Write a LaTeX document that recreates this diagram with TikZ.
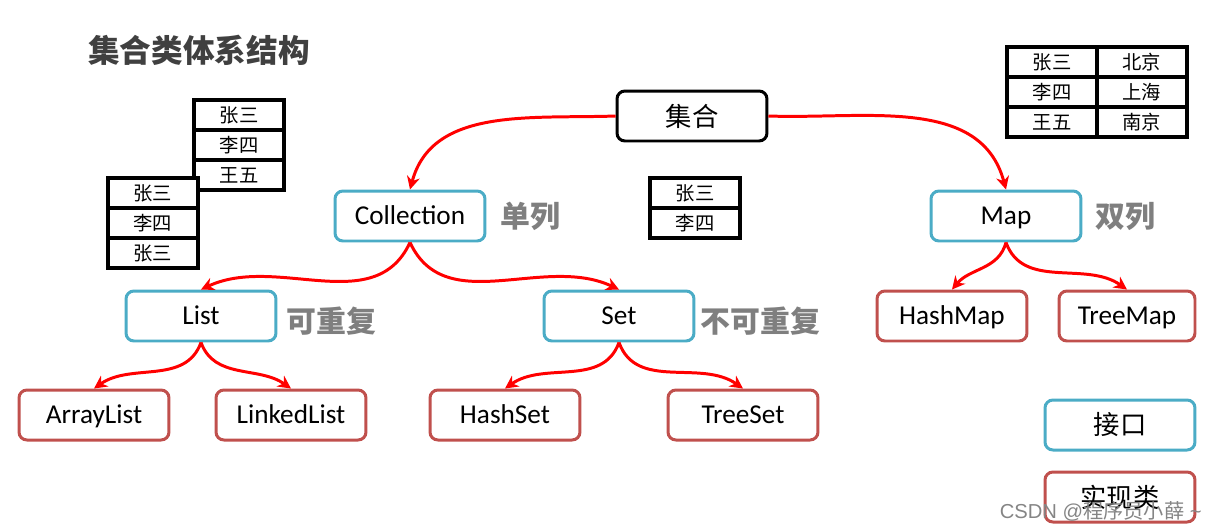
\documentclass[tikz,border=0pt]{standalone}
\usepackage{fontspec}
\setmainfont{Carlito}
\newfontfamily\cjk{Noto Sans CJK SC}
\newfontfamily\markfont{Liberation Sans}
\usetikzlibrary{arrows.meta,positioning}
\definecolor{ifaceblue}{RGB}{75,172,198}
\definecolor{implred}{RGB}{192,80,77}
\definecolor{linkred}{RGB}{255,0,0}
\definecolor{notegray}{RGB}{127,127,127}
\definecolor{titlegray}{RGB}{64,64,64}

\begin{document}
\begin{tikzpicture}[x=0.02cm, y=-0.02cm,
  every node/.style={font=\fontsize{15.5}{18}\selectfont},
  box/.style={draw,rounded corners=4.5pt,line width=1.7pt,fill=white,minimum width=3cm,minimum height=1cm,inner sep=0pt},
  rootbox/.style={box,draw=black,font=\cjk\fontsize{15}{18}\selectfont},
  iface/.style={box,draw=ifaceblue},
  impl/.style={box,draw=implred},
  latin/.style={text height=0.92em,text depth=0em},
  note/.style={font=\cjk\bfseries\fontsize{17}{20}\selectfont,text=notegray,inner sep=0pt},
  cell/.style={draw,line width=2.2pt,minimum width=1.8cm,minimum height=0.6cm,inner sep=0pt,outer sep=0pt,fill=white,font=\cjk\fontsize{11}{13}\selectfont},
  link/.style={draw=linkred,line width=1.7pt,-{Stealth[length=2.6mm,width=2.6mm]}}]
  \useasboundingbox (0,0) rectangle (1215,529);

  % title
  \node[font=\cjk\bfseries\fontsize{18}{21}\selectfont,text=titlegray,anchor=west,inner sep=0pt] (title) at (88,50) {集合类体系结构};

  % tree
  \node[rootbox] (coll) at (692,116) {集合};
  \node[iface,latin] (collection) at (410,216) {Collection};
  \node[iface,latin] (map) at (1006,216) {Map};
  \node[iface,latin] (list) at (201,316) {List};
  \node[iface,latin] (set) at (619,316) {Set};
  \node[impl,latin] (hashmap) at (952,316) {HashMap};
  \node[impl,latin,minimum width=2.72cm] (treemap) at (1127,316) {TreeMap};
  \node[impl,latin] (arraylist) at (94,415) {ArrayList};
  \node[impl,latin] (linkedlist) at (291,415) {LinkedList};
  \node[impl,latin] (hashset) at (505,415) {HashSet};
  \node[impl,latin] (treeset) at (743,415) {TreeSet};

  \node[note,right=0.28cm of collection] (single) {单列};
  \node[note,right=0.26cm of map] (double) {双列};
  \node[note,right=0.18cm of list,yshift=-3pt] (dup) {可重复};
  \node[note,right=0.1cm of set,yshift=-3pt] (nodup) {不可重复};

  \draw[link] (coll.west) to[out=182,in=75] (collection.north);
  \draw[link] (coll.east) to[out=-2,in=105] (map.north);
  \draw[link] (collection.south) to[out=-115,in=25] (list.north);
  \draw[link] (collection.south) to[out=-65,in=155] (set.north);
  \draw[link] (list.south) to[out=-110,in=35] (arraylist.north);
  \draw[link] (list.south) to[out=-70,in=145] (linkedlist.north);
  \draw[link] (set.south) to[out=-110,in=35] (hashset.north);
  \draw[link] (set.south) to[out=-70,in=145] (treeset.north);
  \draw[link] (map.south) to[out=-105,in=50] (hashmap.north);
  \draw[link] (map.south) to[out=-70,in=145] (treemap.north);

  % legend
  \node[iface,font=\cjk\fontsize{15}{18}\selectfont] (legiface) at (1120,425) {接口};
  \node[impl,font=\cjk\fontsize{15}{18}\selectfont] (legimpl) at (1120,497) {实现类};

  % sample tables
  \node[cell] (a1) at (239,115) {张三};
  \node[cell,below=0pt of a1] (a2) {李四};
  \node[cell,below=0pt of a2] (a3) {王五};

  \node[cell] (b1) at (153,193) {张三};
  \node[cell,below=0pt of b1] (b2) {李四};
  \node[cell,below=0pt of b2] (b3) {张三};

  \node[cell] (c1) at (695,193) {张三};
  \node[cell,below=0pt of c1] (c2) {李四};

  \node[cell] (d1) at (1052,62) {张三};
  \node[cell,right=0pt of d1] (d2) {北京};
  \node[cell,below=0pt of d1] (d3) {李四};
  \node[cell,right=0pt of d3] (d4) {上海};
  \node[cell,below=0pt of d3] (d5) {王五};
  \node[cell,right=0pt of d5] (d6) {南京};

  % watermark
  \node[font=\markfont\fontsize{11.5}{13}\selectfont,text=black!48,anchor=east,inner sep=0pt] (mark) at (1202,511) {CSDN @{\cjk 程序员小薛} \textasciitilde};
\end{tikzpicture}
\end{document}
